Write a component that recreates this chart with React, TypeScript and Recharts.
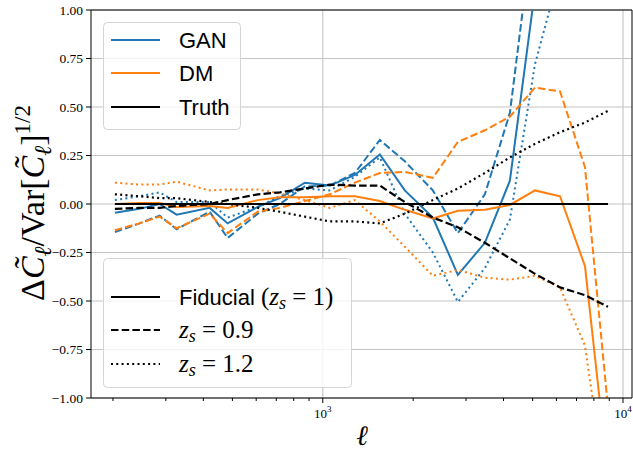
import {
  CartesianGrid,
  Line,
  LineChart,
  ReferenceLine,
  XAxis,
  YAxis,
} from "recharts";

// multipole bins
const ELL = [203, 245, 286, 326, 420, 482, 607, 719, 871, 1055, 1279, 1549, 1876, 2326, 2818, 3467, 4200, 5090, 6170, 7470, 8913];

const ganFid = [-0.045, -0.025, 0.0, -0.055, -0.02, -0.1, -0.015, 0.03, 0.11, 0.095, 0.15, 0.255, 0.07, -0.07, -0.365, -0.2, 0.12, 1.1, 2.5, 4.0, 5.0];
const gan09 = [-0.145, -0.1, -0.06, -0.13, -0.04, -0.175, -0.05, 0.0, 0.09, 0.095, 0.16, 0.33, 0.22, 0.07, -0.15, 0.05, 0.47, 1.5, 3.0, 4.5, 5.5];
const gan12 = [0.02, 0.04, 0.06, 0.01, 0.01, -0.07, -0.015, 0.04, 0.08, 0.07, 0.14, 0.24, -0.05, -0.25, -0.505, -0.33, -0.08, 0.72, 1.2, 2.0, 3.0];

const dmFid = [0.0, 0.005, 0.005, -0.015, -0.01, -0.02, 0.02, 0.035, 0.035, 0.04, 0.04, 0.015, -0.03, -0.075, -0.035, -0.03, -0.005, 0.07, 0.04, -0.32, -1.4];
const dm09 = [-0.135, -0.1, -0.065, -0.125, -0.05, -0.15, -0.04, -0.02, 0.015, 0.05, 0.11, 0.16, 0.165, 0.135, 0.32, 0.38, 0.45, 0.6, 0.58, 0.19, -1.05];
const dm12 = [0.11, 0.1, 0.1, 0.115, 0.07, 0.075, 0.075, 0.055, 0.02, -0.02, 0.02, -0.09, -0.22, -0.37, -0.34, -0.38, -0.39, -0.37, -0.43, -0.73, -1.55];

const truthFid = [0, 0, 0, 0, 0, 0, 0, 0, 0, 0, 0, 0, 0, 0, 0, 0, 0, 0, 0, 0, 0];
const truth09 = [-0.025, -0.02, -0.02, -0.01, 0.0, 0.02, 0.05, 0.06, 0.08, 0.1, 0.095, 0.095, 0.01, -0.07, -0.12, -0.2, -0.28, -0.36, -0.43, -0.47, -0.53];
const truth12 = [0.05, 0.04, 0.03, 0.03, 0.01, 0.0, -0.02, -0.04, -0.065, -0.09, -0.09, -0.1, -0.05, 0.02, 0.08, 0.16, 0.24, 0.31, 0.37, 0.42, 0.48];

const X_MIN = 169;
const X_MAX = 10715;
const MAJOR_X = [1000, 10000];
const MINOR_X = [200, 300, 400, 500, 600, 700, 800, 900, 2000, 3000, 4000, 5000, 6000, 7000, 8000, 9000];
const Y_TICKS = [-1, -0.75, -0.5, -0.25, 0, 0.25, 0.5, 0.75, 1];

const BLUE = "#1f77b4";
const ORANGE = "#ff7f0e";
const DASH = "7.5 3.2";
const DOT = "2 3.3";
const SERIF = "'Liberation Serif', 'DejaVu Serif', serif";
const SANS = "'Liberation Sans', Arial, sans-serif";

const rows = ELL.map((ell, i) => ({
  ell,
  ganFid: ganFid[i],
  gan09: gan09[i],
  gan12: gan12[i],
  dmFid: dmFid[i],
  dm09: dm09[i],
  dm12: dm12[i],
  truthFid: truthFid[i],
  truth09: truth09[i],
  truth12: truth12[i],
}));

function XTick(props: any) {
  const { x, y, payload } = props;
  const major = MAJOR_X.includes(payload.value);
  return (
    <g>
      <line x1={x} x2={x} y1={y} y2={y + (major ? 5 : 3)} stroke="#000" strokeWidth={1} />
      {major && (
        <text x={x} y={y + 20} textAnchor="middle" fontFamily={SERIF} fontSize={13} fill="#000">
          10
          <tspan dy={-6} fontSize={9}>
            {payload.value === 1000 ? "3" : "4"}
          </tspan>
        </text>
      )}
    </g>
  );
}

const fmtY = (v: number) => (v < 0 ? "\u2212" + Math.abs(v).toFixed(2) : v.toFixed(2));

export default function App() {
  const series: [string, string, string | undefined, number][] = [
    ["ganFid", BLUE, undefined, 2],
    ["gan09", BLUE, DASH, 2],
    ["gan12", BLUE, DOT, 2],
    ["dmFid", ORANGE, undefined, 2],
    ["dm09", ORANGE, DASH, 2],
    ["dm12", ORANGE, DOT, 2],
    ["truthFid", "#000", undefined, 2.2],
    ["truth09", "#000", DASH, 2.2],
    ["truth12", "#000", DOT, 2.2],
  ];

  return (
    <div style={{ position: "absolute", left: 0, top: 0, width: 633, height: 451, background: "#fff" }}>
      <LineChart width={633} height={451} data={rows} margin={{ top: 10, right: 1, bottom: 0, left: 0 }}>
        <CartesianGrid vertical={false} stroke="#c4c4c4" strokeWidth={1.1} />
        {MAJOR_X.map((v) => (
          <ReferenceLine key={v} x={v} stroke="#c4c4c4" strokeWidth={1.1} />
        ))}
        <XAxis
          dataKey="ell"
          type="number"
          scale="log"
          domain={[X_MIN, X_MAX]}
          allowDataOverflow
          ticks={[...MINOR_X.slice(0, 8), 1000, ...MINOR_X.slice(8), 10000]}
          interval={0}
          height={53}
          tickSize={0}
          tickMargin={0}
          tick={<XTick />}
          axisLine={{ stroke: "#000", strokeWidth: 1 }}
        />
        <YAxis
          type="number"
          domain={[-1, 1]}
          allowDataOverflow
          ticks={Y_TICKS}
          width={91}
          tickSize={5}
          tickMargin={3}
          tickFormatter={fmtY}
          tick={{ fontFamily: SERIF, fontSize: 13.5, fill: "#000" }}
          tickLine={{ stroke: "#000" }}
          axisLine={{ stroke: "#000", strokeWidth: 1 }}
        />
        <ReferenceLine y={1} stroke="#000" strokeWidth={1} />
        <ReferenceLine x={X_MAX} stroke="#000" strokeWidth={1} />
        {series.map(([key, color, dash, w]) => (
          <Line
            key={key}
            dataKey={key}
            type="linear"
            stroke={color}
            strokeWidth={w}
            strokeDasharray={dash}
            dot={false}
            activeDot={false}
            isAnimationActive={false}
          />
        ))}
      </LineChart>

      <svg width={633} height={451} style={{ position: "absolute", left: 0, top: 0, pointerEvents: "none" }}>
        {/* y label */}
        <text transform="rotate(-90)" x={-203} y={44} textAnchor="middle" fontFamily={SERIF} fontSize={34} fill="#000">
          <tspan>Δ</tspan>
          <tspan fontStyle="italic">C&#771;</tspan>
          <tspan fontStyle="italic" fontSize={24} dy={7}>ℓ</tspan>
          <tspan dy={-7}>/Var[</tspan>
          <tspan fontStyle="italic">C&#771;</tspan>
          <tspan fontStyle="italic" fontSize={24} dy={7}>ℓ</tspan>
          <tspan dy={-7}>]</tspan>
          <tspan fontSize={23} dy={-14}>1/2</tspan>
        </text>
        {/* x label */}
        <text x={362} y={445} textAnchor="middle" fontFamily={SERIF} fontStyle="italic" fontSize={28} fill="#000">
          ℓ
        </text>

        {/* series legend */}
        <rect x={103.5} y={22.5} width={137} height={107} rx={4} fill="#fff" fillOpacity={0.8} stroke="#d5d5d5" />
        <line x1={111} x2={160} y1={40} y2={40} stroke={BLUE} strokeWidth={2} />
        <line x1={111} x2={160} y1={73} y2={73} stroke={ORANGE} strokeWidth={2} />
        <line x1={111} x2={160} y1={107} y2={107} stroke="#000" strokeWidth={2} />
        <text x={179} y={48} fontFamily={SANS} fontSize={22} fill="#000">GAN</text>
        <text x={179} y={81} fontFamily={SANS} fontSize={22} fill="#000">DM</text>
        <text x={179} y={115} fontFamily={SANS} fontSize={22} fill="#000">Truth</text>

        {/* redshift legend */}
        <rect x={103.5} y={258.5} width={248} height={129} rx={4} fill="#fff" fillOpacity={0.8} stroke="#d5d5d5" />
        <line x1={111} x2={160} y1={297} y2={297} stroke="#000" strokeWidth={2.2} />
        <line x1={111} x2={160} y1={330} y2={330} stroke="#000" strokeWidth={2.2} strokeDasharray={DASH} />
        <line x1={111} x2={160} y1={364} y2={364} stroke="#000" strokeWidth={2.2} strokeDasharray={DOT} />
        <text x={179} y={305} fontSize={22} fill="#000">
          <tspan fontFamily={SANS}>Fiducial </tspan>
          <tspan fontFamily={SERIF} fontSize={25}>(</tspan>
          <tspan fontFamily={SERIF} fontSize={25} fontStyle="italic">z</tspan>
          <tspan fontFamily={SERIF} fontStyle="italic" fontSize={18} dy={4}>s</tspan>
          <tspan fontFamily={SERIF} fontSize={25} dy={-4}> = 1)</tspan>
        </text>
        <text x={179} y={338} fontSize={25} fill="#000" fontFamily={SERIF}>
          <tspan fontStyle="italic">z</tspan>
          <tspan fontStyle="italic" fontSize={18} dy={4}>s</tspan>
          <tspan dy={-4}> = 0.9</tspan>
        </text>
        <text x={179} y={372} fontSize={25} fill="#000" fontFamily={SERIF}>
          <tspan fontStyle="italic">z</tspan>
          <tspan fontStyle="italic" fontSize={18} dy={4}>s</tspan>
          <tspan dy={-4}> = 1.2</tspan>
        </text>
      </svg>
    </div>
  );
}
